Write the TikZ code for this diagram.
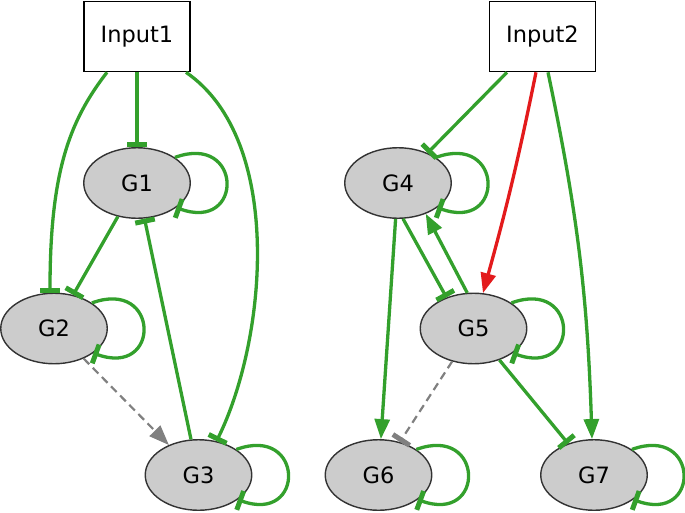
\documentclass[tikz,border=0pt]{standalone}
\usepackage{fontspec}
\setmainfont{DejaVu Sans}
\usetikzlibrary{arrows.meta,shapes.geometric}
\definecolor{egreen}{RGB}{51,160,44}
\definecolor{ered}{RGB}{227,26,28}
\definecolor{egray}{RGB}{128,128,128}
\definecolor{nfill}{RGB}{204,204,204}
\definecolor{nline}{RGB}{51,51,51}
\begin{document}
\begin{tikzpicture}[x=1pt,y=-1pt,
  lbl/.style={font=\fontsize{22.5}{27}\selectfont},
  gene/.style={lbl, ellipse, draw=nline, line width=1.4pt, fill=nfill,
    minimum width=106.5pt, minimum height=70.5pt, inner sep=0pt},
  inbox/.style={lbl, rectangle, draw=black, line width=1.6pt, fill=white,
    minimum width=106pt, minimum height=70pt, inner sep=0pt},
  inh/.style={draw=egreen, line width=3.3pt, -{Rectangle[width=20pt,length=5pt]}},
  act/.style={draw=egreen, line width=3.3pt, -{Triangle[length=20pt,width=15pt]}},
  actred/.style={draw=ered, line width=3.3pt, -{Triangle[length=20pt,width=15pt]}},
  dashact/.style={draw=egray, line width=2.2pt, dash pattern=on 8pt off 5pt, -{Triangle[length=20pt,width=15pt]}},
  dashinh/.style={draw=egray, line width=2.2pt, dash pattern=on 8pt off 5pt, -{Rectangle[width=20pt,length=5pt]}}
]
\useasboundingbox (0,0) rectangle (685,512);

% nodes
\node[inbox] (Input1) at (137,36.5) {Input1};
\node[inbox] (Input2) at (542.5,36.5) {Input2};
\node[gene] (G1) at (137,183) {G1};
\node[gene] (G2) at (54,328.5) {G2};
\node[gene] (G3) at (198.5,475) {G3};
\node[gene] (G4) at (398,183) {G4};
\node[gene] (G5) at (473.5,328.5) {G5};
\node[gene] (G6) at (378.5,475) {G6};
\node[gene] (G7) at (594,475) {G7};

% left component
\draw[inh] (Input1) -- (G1);
\draw[inh] ([xshift=-30pt]Input1.south) .. controls +(-37,48) and +(0,-122) .. ([xshift=-4pt]G2.north);
\draw[inh] ([xshift=49pt]Input1.south) .. controls +(99,68) and +(50,-101) .. (G3.62);
\draw[inh] (G1.34) .. controls +(68,-25) and +(68,25) .. (G1.-32);
\draw[inh] (G1) -- (G2);
\draw[inh] (G3) -- (G1);
\draw[inh] (G2.34) .. controls +(68,-25) and +(68,25) .. (G2.-32);
\draw[dashact] (G2) -- (G3);
\draw[inh] (G3.34) .. controls +(68,-25) and +(68,25) .. (G3.-32);

% right component
\draw[inh] ([xshift=-35.5pt]Input2.south) -- (G4);
\draw[actred] ([xshift=-6.5pt]Input2.south) to[bend left=2] (G5.75);
\draw[act] ([xshift=5.5pt]Input2.south) to[bend left=5] ([xshift=-2pt]G7.north);
\draw[inh] (G4.34) .. controls +(68,-25) and +(68,25) .. (G4.-32);
\draw[act] (G4) -- (G6);
\draw[inh] (G4.-82) -- (G5.131);
\draw[act] (G5.100) -- (G4.-48);
\draw[inh] (G5.34) .. controls +(68,-25) and +(68,25) .. (G5.-32);
\draw[dashinh] (G5) -- (G6);
\draw[inh] (G5) -- (G7);
\draw[inh] (G6.34) .. controls +(68,-25) and +(68,25) .. (G6.-32);
\draw[inh] (G7.34) .. controls +(68,-25) and +(68,25) .. (G7.-32);
\end{tikzpicture}
\end{document}
